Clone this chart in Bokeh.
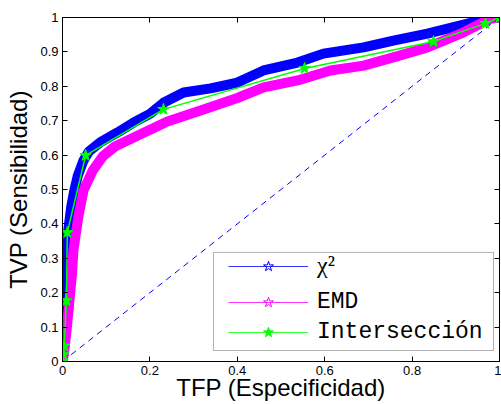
from bokeh.plotting import figure
from bokeh.models import Range1d, LinearAxis, FixedTicker, Legend, LegendItem, BoxAnnotation
from bokeh.embed import file_html
from bokeh.resources import INLINE

# ---- data ----
chi_x = [0, 0.003, 0.008, 0.010, 0.012, 0.013, 0.020, 0.027, 0.035, 0.048, 0.060, 0.087,
         0.126, 0.163, 0.200, 0.231, 0.277, 0.339, 0.400, 0.460, 0.538, 0.597, 0.689,
         0.757, 0.835, 0.911, 0.973, 1.0]
chi_y = [0, 0.030, 0.100, 0.177, 0.300, 0.380, 0.450, 0.497, 0.540, 0.584, 0.610, 0.638,
         0.666, 0.695, 0.720, 0.752, 0.782, 0.794, 0.811, 0.846, 0.869, 0.895, 0.913,
         0.933, 0.953, 0.977, 0.997, 1.0]

emd_x = [0, 0.004, 0.010, 0.016, 0.022, 0.025, 0.036, 0.048, 0.069, 0.092, 0.120, 0.163,
         0.240, 0.316, 0.400, 0.460, 0.538, 0.613, 0.689, 0.757, 0.835, 0.911, 0.980, 1.0]
emd_y = [0, 0.030, 0.100, 0.177, 0.260, 0.323, 0.419, 0.497, 0.555, 0.596, 0.625, 0.651,
         0.698, 0.730, 0.766, 0.797, 0.817, 0.846, 0.860, 0.884, 0.913, 0.953, 0.997, 1.0]

int_x = [0, 0.002, 0.004, 0.009, 0.011, 0.053, 0.231, 0.554, 0.849, 0.968, 1.0]
int_y = [0, 0.020, 0.045, 0.177, 0.375, 0.599, 0.733, 0.852, 0.930, 0.983, 1.0]

diag_x = [0, 1]
diag_y = [0, 1]

x_ticks = [0, 0.2, 0.4, 0.6, 0.8, 1]
x_tick_labels = ["0", "0.2", "0.4", "0.6", "0.8", "1"]
y_ticks = [0, 0.1, 0.2, 0.3, 0.4, 0.5, 0.6, 0.7, 0.8, 0.9, 1]
y_tick_labels = ["0", "0.1", "0.2", "0.3", "0.4", "0.5", "0.6", "0.7", "0.8", "0.9", "1"]

legend_labels = ["χ²", "EMD", "Intersección"]
x_title = "TFP (Especificidad)"
y_title = "TVP (Sensibilidad)"

BLUE = "#0000FF"
MAGENTA = "#FF00FF"
GREEN = "#00FF00"

p = figure(width=501, height=404, x_range=Range1d(0, 1), y_range=Range1d(0, 1),
           output_backend="svg", toolbar_location=None,
           min_border_left=62, min_border_right=2, min_border_top=17, min_border_bottom=43)
p.background_fill_color = "white"
p.border_fill_color = "white"
p.outline_line_color = "black"
p.grid.visible = False

# curves
p.line(chi_x, chi_y, line_color=BLUE, line_width=10, line_join="round", line_cap="round")
p.line(emd_x, emd_y, line_color=MAGENTA, line_width=10, line_join="round", line_cap="round")
p.line(diag_x, diag_y, line_color=BLUE, line_width=1, line_dash="6 5")
p.line(int_x, int_y, line_color=GREEN, line_width=1.5)
p.scatter(int_x, int_y, marker="star", size=12, fill_color=GREEN, line_color=GREEN)

# axes styling
def style_axis(ax, ticks, labels, show_labels=True):
    ax.ticker = FixedTicker(ticks=ticks)
    ax.major_label_overrides = {t: l for t, l in zip(ticks, labels)}
    ax.major_tick_in = 5
    ax.major_tick_out = 0
    ax.minor_tick_line_color = None
    ax.axis_line_color = "black"
    ax.major_tick_line_color = "black"
    ax.major_label_text_font = "Liberation Sans"
    if show_labels:
        ax.major_label_text_font_size = "13px"
        ax.major_label_text_color = "black"
    else:
        ax.major_label_text_font_size = "1px"
        ax.major_label_text_color = None
        ax.major_label_standoff = 0

xa = p.xaxis[0]
ya = p.yaxis[0]
style_axis(xa, x_ticks, x_tick_labels)
style_axis(ya, y_ticks, y_tick_labels)
xa.major_label_standoff = 4
ya.major_label_standoff = 4
xa.axis_label = x_title
ya.axis_label = y_title
for ax in (xa, ya):
    ax.axis_label_text_font = "Liberation Sans"
    ax.axis_label_text_font_size = "24px"
    ax.axis_label_text_font_style = "normal"
    ax.axis_label_text_color = "black"
xa.axis_label_standoff = -4
ya.axis_label_standoff = 5

top = LinearAxis()
style_axis(top, x_ticks, x_tick_labels, show_labels=False)
p.add_layout(top, "above")
right = LinearAxis()
style_axis(right, y_ticks, y_tick_labels, show_labels=False)
p.add_layout(right, "right")

# legend box
box = BoxAnnotation(left=0.3455, right=0.9863, bottom=0.032, top=0.317,
                    fill_color="white", fill_alpha=1.0, line_color="black", line_width=1)
p.add_layout(box)

# legend-only renderers (a single point kept outside the visible range)
colors = [BLUE, MAGENTA, GREEN]
fills = [None, None, GREEN]
fonts = ["Liberation Serif", "Liberation Mono", "Liberation Mono"]
sizes = ["24px", "23px", "23px"]
offsets = [82, 46, 16]
for lab, c, f, fn, fs, off in zip(legend_labels, colors, fills, fonts, sizes, offsets):
    lr = p.line([-5, -4], [-5, -4], line_color=c, line_width=1, line_alpha=0.8)
    sr = p.scatter([-5], [-5], marker="star", fill_color=f, line_color=c, line_width=1)
    lg = Legend(items=[LegendItem(label=lab, renderers=[lr, sr])],
                location=(166, off), padding=0, margin=0, spacing=0,
                glyph_width=80, glyph_height=26, label_height=26, label_standoff=9,
                border_line_color=None, background_fill_alpha=0,
                label_text_font=fn, label_text_font_size=fs, label_text_color="black")
    p.add_layout(lg, "center")

open("out.html", "w").write(file_html(p, INLINE))
